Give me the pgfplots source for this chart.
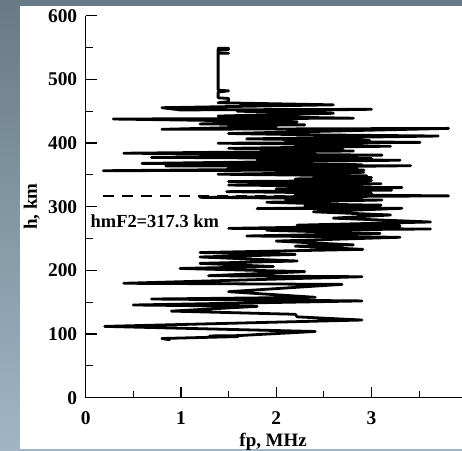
\documentclass[border=0pt]{standalone}
\usepackage{pgfplots}
\pgfplotsset{compat=1.18}
\usepackage{fontspec}
\setmainfont{Liberation Serif}
\definecolor{bgtop}{HTML}{687A85}
\definecolor{bgbot}{HTML}{A0B6C6}
\begin{document}
\begin{tikzpicture}
\shade[top color=bgtop, bottom color=bgbot] (0,0) rectangle (462bp,451bp);
\fill[white] (20bp,2bp) rectangle (462bp,445bp);
\begin{axis}[
  at={(85.7bp,53.3bp)}, anchor=south west,
  scale only axis, width=376.3bp, height=382bp,
  xmin=0, xmax=3.95, ymin=0, ymax=600,
  axis x line=bottom, axis y line=left,
  axis line style={-, line width=1.4pt},
  xtick={0,1,2,3}, minor xtick={0.5,1.5,2.5,3.5},
  ytick={0,100,200,300,400,500,600}, minor ytick={50,150,250,350,450,550},
  tick align=inside,
  major tick length=11bp, minor tick length=7bp,
  every tick/.style={line width=1.1pt, black},
  /pgf/number format/assume math mode=true,
  ticklabel style={font=\bfseries\fontsize{19.5}{19.5}\selectfont},
  xticklabel style={yshift=-10bp},
  yticklabel style={xshift=-5bp},
  xlabel={fp, MHz}, ylabel={h, km},
  xlabel style={font=\bfseries\fontsize{19}{19}\selectfont, at={(axis description cs:0.498,-0.115)}, anchor=center},
  ylabel style={font=\bfseries\fontsize{19}{19}\selectfont, at={(axis description cs:-0.1435,0.5)}, anchor=center},
  clip=false,
]
\addplot[black, line width=2pt, dash pattern=on 11bp off 8bp] coordinates {(0.18,317.3) (3.8,317.3)};
\addplot[black, line width=2.8pt, line join=round, line cap=round] coordinates {
(0.88,91) (0.80,93) (1.60,96) (1.30,97) (1.60,97.5) (2.41,104) (0.20,112) (2.90,122)
(2.22,127) (2.20,131) (0.90,136) (1.80,143.5) (0.50,145.6) (2.90,152) (0.69,155)
(2.41,157.7) (1.50,166.5) (2.69,178) (0.40,179.7) (2.90,190) (1.29,191.6) (2.30,198)
(0.99,203) (1.97,206) (1.20,211) (2.22,214.7) (1.20,221) (2.20,225) (1.20,228)
(2.91,233) (2.20,238) (2.81,240) (2.00,246) (3.30,252) (1.69,254) (3.09,258)
(1.90,263) (3.62,265) (1.50,266) (3.30,270) (2.22,271) (3.62,276) (2.60,282)
(3.20,287) (2.39,292) (3.32,297.5) (1.80,297) (2.90,299) (2.30,301.6) (3.10,302.5)
(2.80,303) (1.90,307) (3.11,310.5) (2.10,311) (2.90,312.5) (1.20,314.7) (3.81,317)
(2.20,319) (3.00,321) (2.40,322) (1.48,323.6) (3.21,326) (2.00,328) (3.32,330)
(2.30,331) (2.90,332) (1.50,334) (3.10,336) (2.20,337) (2.90,338) (1.50,339.5)
(3.00,341) (2.20,343.6) (3.00,345.7) (2.40,347) (2.95,348.5) (1.39,351) (2.92,354)
(2.00,355) (2.92,357.6) (0.185,356.5) (2.85,360) (1.50,361) (3.41,364.4) (0.84,364)
(2.90,366) (0.59,368) (3.30,373) (1.80,374) (3.00,375.5) (0.69,377.5) (3.11,381)
(0.40,384) (2.81,387.5) (1.90,389) (2.70,390) (1.50,391.7) (3.20,395) (2.20,396)
(2.90,397.5) (1.39,399.7) (3.51,401) (2.10,403) (2.98,404) (1.69,406.5) (3.70,411)
(2.30,413) (1.50,415) (3.81,423) (0.80,421.5) (2.00,426) (1.50,427.5) (2.30,428.5)
(1.20,430) (2.22,433.5) (0.29,437.7) (2.81,439) (1.39,442.4) (2.60,446.7) (1.59,450)
(3.00,453) (0.99,452) (0.80,455.5) (2.60,460) (1.39,463.3) (1.50,465) (1.50,470)
(1.39,471) (1.39,480) (1.50,482) (1.39,483) (1.39,541) (1.50,541) (1.39,542)
(1.39,547) (1.50,547) (1.39,549) (1.50,549)
};
\node[anchor=base west, inner sep=0pt, font=\bfseries\fontsize{18.5}{18.5}\selectfont] at (axis cs:0.05,267) {hmF2=317.3 km};
\end{axis}
\pgfresetboundingbox
\path[use as bounding box] (0,0) rectangle (462bp,451bp);
\end{tikzpicture}
\end{document}
